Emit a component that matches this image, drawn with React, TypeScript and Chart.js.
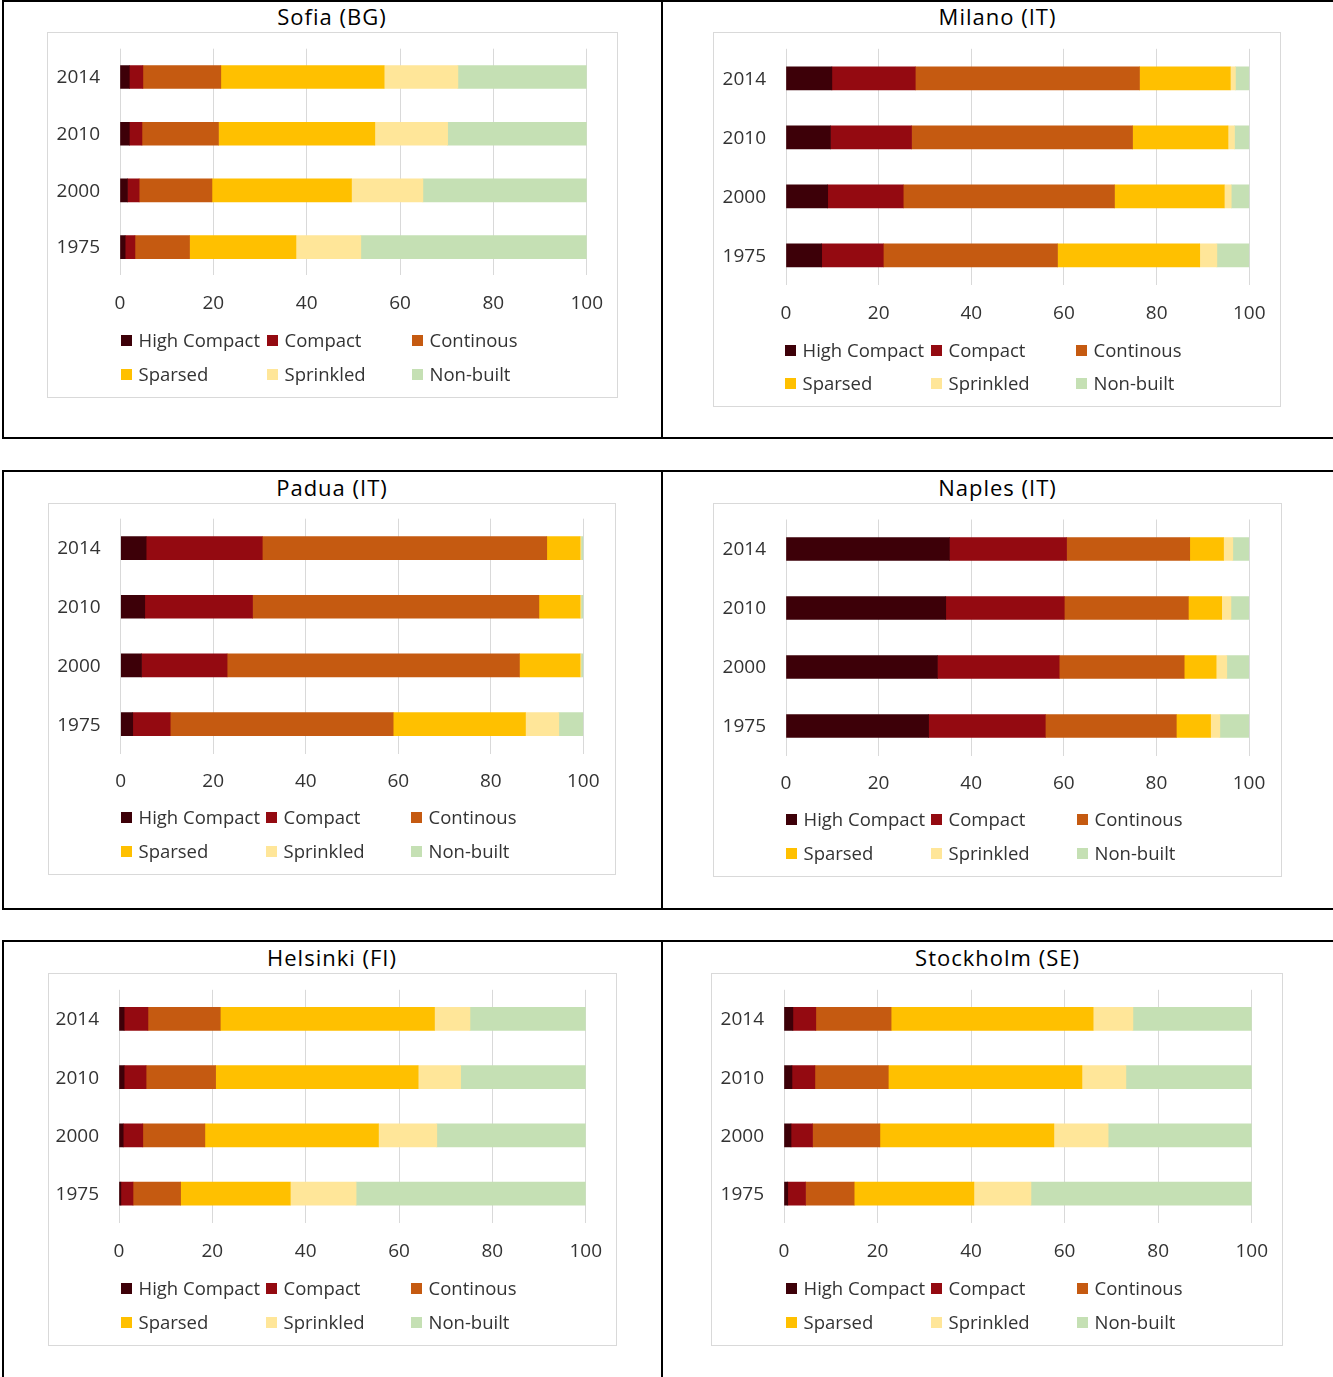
import React, { useEffect, useRef } from 'react';
import { Chart, registerables } from 'chart.js';

Chart.register(...registerables);

const YEARS = ['2014', '2010', '2000', '1975'];
const SERIES = ['High Compact', 'Compact', 'Continous', 'Sparsed', 'Sprinkled', 'Non-built'];
const COLORS = ['#3d0008', '#940a11', '#c55a11', '#ffc000', '#ffe699', '#c5e0b4'];
const X_MIN = 0;
const X_MAX = 100;
const X_STEP = 20;

// rows = series (in SERIES order), columns = years (in YEARS order)
const SOFIA = [
  [2.0, 2.0, 1.6, 1.1],
  [2.9, 2.7, 2.5, 2.1],
  [16.7, 16.4, 15.6, 11.7],
  [35.0, 33.5, 29.9, 22.8],
  [15.8, 15.6, 15.3, 13.9],
  [27.6, 29.8, 35.1, 48.4],
];
const MILANO = [
  [9.9, 9.6, 9.0, 7.7],
  [18.0, 17.5, 16.3, 13.3],
  [48.4, 47.7, 45.6, 37.6],
  [19.6, 20.6, 23.7, 30.7],
  [1.1, 1.4, 1.5, 3.7],
  [3.0, 3.2, 3.9, 7.0],
];
const PADUA = [
  [5.5, 5.2, 4.5, 2.6],
  [25.1, 23.3, 18.5, 8.1],
  [61.5, 61.9, 63.2, 48.2],
  [7.2, 8.9, 13.1, 28.6],
  [0.2, 0.2, 0.2, 7.2],
  [0.5, 0.5, 0.5, 5.3],
];
const NAPLES = [
  [35.3, 34.5, 32.7, 30.8],
  [25.3, 25.6, 26.3, 25.2],
  [26.6, 26.8, 27.0, 28.3],
  [7.3, 7.2, 6.9, 7.4],
  [2.0, 2.0, 2.3, 2.0],
  [3.5, 3.9, 4.8, 6.3],
];
const HELSINKI = [
  [1.1, 1.1, 0.9, 0.4],
  [5.1, 4.7, 4.2, 2.6],
  [15.5, 14.9, 13.3, 10.2],
  [45.9, 43.4, 37.2, 23.5],
  [7.6, 9.1, 12.5, 14.1],
  [24.8, 26.8, 31.9, 49.2],
];
const STOCKHOLM = [
  [1.9, 1.7, 1.5, 0.8],
  [4.9, 4.9, 4.6, 3.8],
  [16.1, 15.7, 14.4, 10.4],
  [43.2, 41.4, 37.2, 25.6],
  [8.5, 9.4, 11.6, 12.2],
  [25.4, 26.9, 30.7, 47.2],
];

const FONT = '"Open Sans", "Noto Sans", sans-serif';
const TEXT_COLOR = '#333333';
const TICK_SIZE = 19;

type Layout = {
  box: [number, number, number, number];
  x0: number;
  x100: number;
  top: number;
  bottom: number;
  tickY: number;
  legendY: [number, number];
  legendX: [number, number, number];
  titleX: number;
  titleY: number;
};

type Spec = { title: string; data: number[][]; layout: Layout };

const SPECS: Spec[] = [
  {
    title: 'Sofia (BG)',
    data: SOFIA,
    layout: { box: [47, 32, 571, 366], x0: 120, x100: 586.7, top: 48.7, bottom: 275.4, tickY: 302, legendY: [340, 374], legendX: [121, 267, 412], titleX: 332, titleY: 17 },
  },
  {
    title: 'Milano (IT)',
    data: MILANO,
    layout: { box: [713, 32, 568, 375], x0: 786, x100: 1249.3, top: 48.8, bottom: 284.8, tickY: 312, legendY: [350, 383], legendX: [785, 931, 1076], titleX: 997.5, titleY: 17 },
  },
  {
    title: 'Padua (IT)',
    data: PADUA,
    layout: { box: [48, 503, 568, 372], x0: 120.7, x100: 583.3, top: 518.7, bottom: 753.5, tickY: 780, legendY: [817, 851], legendX: [121, 266, 411], titleX: 332, titleY: 488 },
  },
  {
    title: 'Naples (IT)',
    data: NAPLES,
    layout: { box: [713, 503, 569, 374], x0: 786, x100: 1249, top: 519.5, bottom: 755.5, tickY: 782, legendY: [819, 853], legendX: [786, 931, 1077], titleX: 997.5, titleY: 488 },
  },
  {
    title: 'Helsinki (FI)',
    data: HELSINKI,
    layout: { box: [48, 973, 569, 373], x0: 119, x100: 585.7, top: 989.8, bottom: 1222.8, tickY: 1250, legendY: [1288, 1322], legendX: [121, 266, 411], titleX: 332, titleY: 958 },
  },
  {
    title: 'Stockholm (SE)',
    data: STOCKHOLM,
    layout: { box: [711, 973, 572, 373], x0: 784, x100: 1251.7, top: 989.8, bottom: 1222.8, tickY: 1250, legendY: [1288, 1322], legendX: [786, 931, 1077], titleX: 997.5, titleY: 958 },
  },
];

function CityChart({ spec }: { spec: Spec }) {
  const ref = useRef<HTMLCanvasElement>(null);
  const L = spec.layout;
  const [bx, by, bw, bh] = L.box;

  useEffect(() => {
    if (!ref.current) return;
    const yAxisW = L.x0 - bx;
    const xAxisH = 50;
    const padTop = L.top - by;
    const padRight = bx + bw - L.x100;
    const padBottom = by + bh - L.bottom - xAxisH;
    const tickPad = L.tickY + 1.5 - L.bottom - (TICK_SIZE * 1.2) / 2;
    const chart = new Chart(ref.current, {
      type: 'bar',
      data: {
        labels: YEARS,
        datasets: SERIES.map((name, i) => ({
          label: name,
          data: spec.data[i],
          backgroundColor: COLORS[i],
          borderWidth: 0,
          barThickness: 23,
        })),
      },
      options: {
        indexAxis: 'y',
        animation: false,
        responsive: false,
        layout: { padding: { left: 0, top: padTop, right: padRight, bottom: padBottom } },
        plugins: {
          legend: { display: false },
          tooltip: { enabled: false },
          title: { display: false },
        },
        scales: {
          x: {
            stacked: true,
            min: X_MIN,
            max: X_MAX,
            ticks: {
              stepSize: X_STEP,
              padding: tickPad,
              color: TEXT_COLOR,
              font: { family: FONT, size: TICK_SIZE },
              maxRotation: 0,
            },
            grid: { color: '#d9d9d9', lineWidth: 1, drawTicks: false },
            border: { display: false },
            afterFit: (s: any) => {
              s.height = xAxisH;
              s.paddingLeft = 0;
              s.paddingRight = 0;
            },
          },
          y: {
            stacked: true,
            ticks: {
              padding: 20,
              labelOffset: 1,
              color: TEXT_COLOR,
              font: { family: FONT, size: TICK_SIZE },
            },
            grid: { display: false, drawTicks: false },
            border: { display: false },
            afterFit: (s: any) => {
              s.width = yAxisW;
              s.paddingTop = 0;
              s.paddingBottom = 0;
            },
          },
        },
      } as any,
    });
    return () => chart.destroy();
  }, []);

  return (
    <>
      <div
        style={{
          position: 'absolute',
          left: bx,
          top: by,
          width: bw,
          height: bh,
          boxSizing: 'border-box',
          border: '1px solid #d9d9d9',
        }}
      />
      <canvas
        ref={ref}
        width={bw}
        height={bh}
        style={{ position: 'absolute', left: bx, top: by, width: bw, height: bh }}
      />
      <div
        style={{
          position: 'absolute',
          left: L.titleX - 200,
          width: 400,
          top: L.titleY - 16,
          height: 30,
          lineHeight: '30px',
          textAlign: 'center',
          fontFamily: FONT,
          fontSize: 22,
          letterSpacing: '1px',
          color: '#000',
        }}
      >
        {spec.title}
      </div>
      {SERIES.map((name, i) => {
        const row = Math.floor(i / 3);
        const col = i % 3;
        const x = L.legendX[col];
        const y = L.legendY[row];
        return (
          <React.Fragment key={name}>
            <div
              style={{
                position: 'absolute',
                left: x,
                top: y - 5.5,
                width: 11,
                height: 11,
                background: COLORS[i],
              }}
            />
            <div
              style={{
                position: 'absolute',
                left: x + 17.5,
                top: y - 12.5,
                height: 24,
                lineHeight: '24px',
                whiteSpace: 'nowrap',
                fontFamily: FONT,
                fontSize: 18.5,
                color: TEXT_COLOR,
              }}
            >
              {name}
            </div>
          </React.Fragment>
        );
      })}
    </>
  );
}

function Line({ x, y, w, h }: { x: number; y: number; w: number; h: number }) {
  return <div style={{ position: 'absolute', left: x, top: y, width: w, height: h, background: '#000' }} />;
}

export default function App() {
  useEffect(() => {
    document.body.style.margin = '0';
  }, []);
  const rows: [number, number][] = [
    [0, 439],
    [470, 910],
    [940, 1377],
  ];
  return (
    <div
      style={{
        position: 'fixed',
        left: 0,
        top: 0,
        width: 1333,
        height: 1377,
        background: '#fff',
        overflow: 'hidden',
      }}
    >
      {rows.map(([t, b], i) => (
        <React.Fragment key={i}>
          <Line x={2} y={t} w={1331} h={2} />
          {i < 2 && <Line x={2} y={b - 2} w={1331} h={2} />}
          <Line x={2} y={t} w={2} h={b - t} />
          <Line x={661} y={t} w={2} h={b - t} />
        </React.Fragment>
      ))}
      {SPECS.map((s) => (
        <CityChart key={s.title} spec={s} />
      ))}
    </div>
  );
}
